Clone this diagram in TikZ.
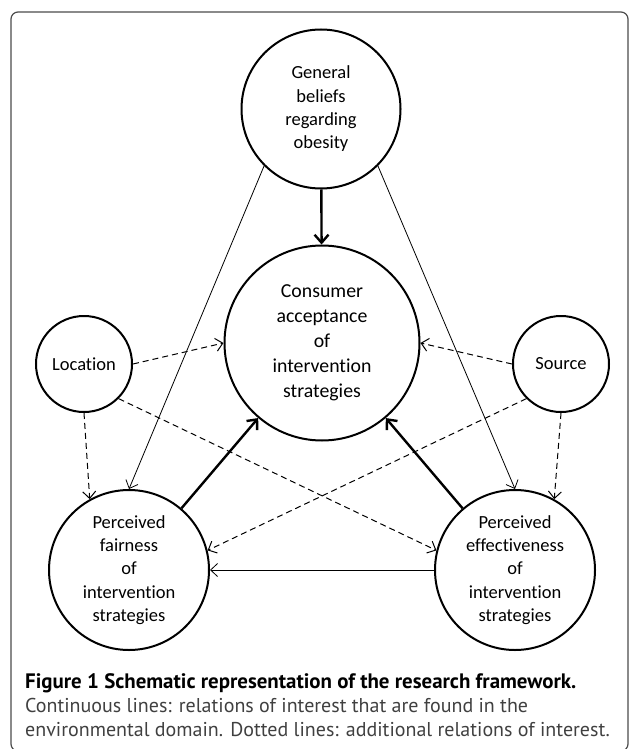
\documentclass[tikz,border=0pt]{standalone}
\usepackage{fontspec}
\setmainfont{Carlito}[Ligatures=NoCommon]
\newfontfamily\captionfont{PT Sans}
\usetikzlibrary{arrows.meta}

\begin{document}
\begin{tikzpicture}[x=1pt, y=-1pt,
        bubble/.style={circle, draw, line width=2pt, align=center, inner sep=0pt,
            font=\fontsize{18.5}{23.3}\selectfont},
        relation/.style={line width=0.8pt, -{Straight Barb[length=7pt, width=13pt]}},
        extra/.style={relation, line width=1pt, dash pattern=on 6pt off 4pt},
        strong/.style={line width=2.4pt, -{Straight Barb[length=8pt, width=14pt]}},
        capline/.style={anchor=base west, inner sep=0pt, text=black!75,
            font=\captionfont\fontsize{20}{24}\selectfont}
    ]
        \clip (0,0) rectangle (629,749);

        % frame
        \draw[black!70, line width=1.2pt, rounded corners=7pt] (11,12) rectangle (628,751);

        % the six constructs
        \node[bubble, minimum size=159pt] (beliefs) at (321,109) {General\\beliefs\\regarding\\obesity};
        \node[bubble, minimum size=195pt, font=\fontsize{19.8}{25}\selectfont] (acceptance) at (322,343)
            {Consumer\\acceptance\\of\\intervention\\strategies};
        \node[bubble, minimum size=96pt] (location) at (84,364) {Location};
        \node[bubble, minimum size=96pt] (source) at (561,364) {Source};
        \node[bubble, minimum size=160pt] (fairness) at (129,570)
            {Perceived\\fairness\\of\\intervention\\strategies};
        \node[bubble, minimum size=160pt] (effectiveness) at (515,570)
            {Perceived\\effectiveness\\of\\intervention\\strategies};

        % continuous lines
        \draw[strong] (beliefs) -- (acceptance);
        \draw[strong] (fairness) -- (acceptance);
        \draw[strong] (effectiveness) -- (acceptance);
        \draw[relation] (beliefs.-135) -- (fairness.north);
        \draw[relation] (beliefs.-45) -- (effectiveness.north);
        \draw[relation] (effectiveness.west) -- (fairness.east);

        % dotted lines
        \draw[extra] (location.east) -- (acceptance.west);
        \draw[extra] (source.west) -- (acceptance.east);
        \draw[extra] (location.south) -- (fairness.119);
        \draw[extra] (source.south) -- (effectiveness.61);
        \draw[extra] (location.-45) -- (effectiveness.166);
        \draw[extra] (source.-135) -- (fairness.14);

        % caption
        \node[capline, text=black, font=\captionfont\bfseries\fontsize{20.9}{24}\selectfont] (title) at (25,688)
            {Figure 1 Schematic representation of the research framework.};
        \node[capline] (noteone) at (25,712) {Continuous lines: relations of interest that are found in the};
        \node[capline] (notetwo) at (25,736) {environmental domain. Dotted lines: additional relations of interest.};
    \end{tikzpicture}
\end{document}
